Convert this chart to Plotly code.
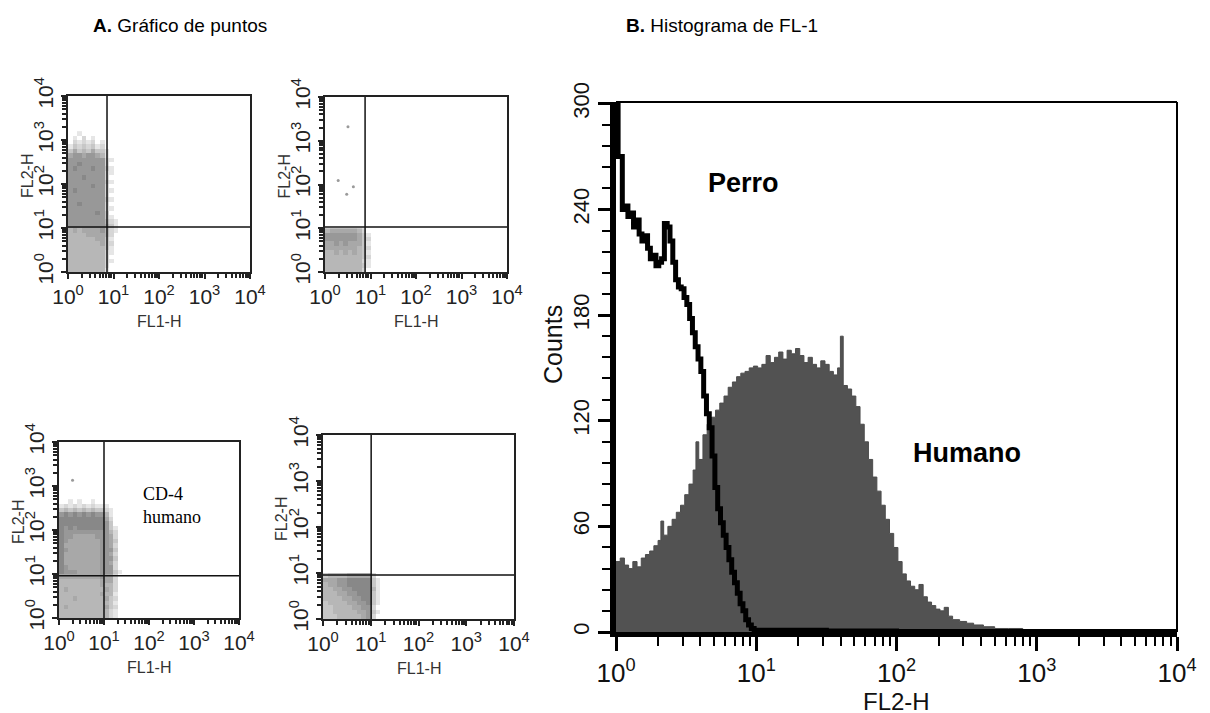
import numpy as np
import plotly.graph_objects as go

FONT = "Liberation Sans, Arial, Helvetica, sans-serif"

# ---------------- shared decade ticks ----------------
decade_exps = [0, 1, 2, 3, 4]
decade_labels = ["10<sup>0</sup>", "10<sup>1</sup>", "10<sup>2</sup>", "10<sup>3</sup>", "10<sup>4</sup>"]

# ---------------- A. dot plots ----------------
# Grey-level density grids: 0.1-decade cells.
# Each string is one FL2-H row (top row first); each character one FL1-H column from 10^0 upward.
# 0 = no events, 1 = faint ... 9 = dark.
dot_top_left = [
    "00100000000000",
    "01020100000000",
    "02121201000000",
    "13232312000000",
    "35343533100000",
    "56656654100000",
    "66666666210000",
    "66766666200000",
    "67666766310000",
    "66666666210000",
    "66676666200000",
    "66666666310000",
    "66666766200000",
    "67666666210000",
    "66666666200000",
    "66666666310000",
    "66766666200000",
    "66666666210000",
    "66666676300000",
    "66666666310000",
    "66666666421000",
    "66666666531000",
    "45455556421000",
    "44445555420000",
    "44444455310000",
    "44444445320000",
    "44444444310000",
    "44444444210000",
    "44444444200000",
    "44444444210000",
    "44444444200000",
    "44444444100000",
]
dot_top_right = [
    "45555554200000",
    "66666665310000",
    "66666665320000",
    "55656555310000",
    "55555554320000",
    "44545454310000",
    "44444444320000",
    "44444444210000",
    "44444444310000",
    "44444444200000",
]
dot_bottom_left = [
    "00101001000000",
    "12121212111000",
    "34343434332100",
    "67676767664100",
    "77777777775200",
    "77777777776300",
    "76767777776310",
    "76666666666420",
    "76655555666520",
    "76555555566530",
    "75555555566520",
    "76555555566630",
    "75555555566520",
    "75555555566630",
    "75555555566520",
    "76555555566620",
    "76665555566631",
    "55555555565520",
    "44444444455520",
    "44444444454420",
    "45444444445420",
    "44444444454410",
    "44454444445320",
    "44444444444310",
    "45444444445320",
    "44444444444210",
    "44444444444210",
]
dot_bottom_right = [
    "34444555552000",
    "55566777773100",
    "45566777773100",
    "44556677774100",
    "44455667773100",
    "44445566773100",
    "34444556673100",
    "33444455662000",
    "33444445563100",
    "33344444562000",
]
dot_grids = [dot_top_left, dot_top_right, dot_bottom_left, dot_bottom_right]

# quadrant gates (FL1-H, FL2-H channel values)
gate_fl1 = [7.2, 7.6, 10.0, 10.2]
gate_fl2 = [10.5, 10.7, 9.1, 9.1]

# isolated events
stray_fl1 = [[], [1.95, 3.2, 3.0, 4.2], [2.0], []]
stray_fl2 = [[], [123, 2090, 60, 89], [1350], []]

# ---------------- B. FL histogram ----------------
humano_exp = [0.00, 0.03, 0.06, 0.09, 0.12, 0.15, 0.18, 0.21, 0.24, 0.27, 0.30, 0.32, 0.34, 0.37,
              0.40, 0.43, 0.46, 0.49, 0.52, 0.55, 0.57, 0.59, 0.62, 0.65, 0.68, 0.71, 0.74, 0.77,
              0.80, 0.83, 0.86, 0.89, 0.92, 0.95, 0.98, 1.01, 1.04, 1.07, 1.10, 1.13, 1.16, 1.19,
              1.22, 1.25, 1.28, 1.31, 1.34, 1.37, 1.40, 1.43, 1.46, 1.49, 1.52, 1.55, 1.58, 1.60,
              1.62, 1.65, 1.68, 1.71, 1.74, 1.77, 1.80, 1.83, 1.86, 1.89, 1.92, 1.95, 1.98, 2.01,
              2.04, 2.07, 2.10, 2.13, 2.16, 2.19, 2.22, 2.25, 2.28, 2.31, 2.34, 2.37, 2.40, 2.45,
              2.50, 2.55, 2.62, 2.70, 2.80, 2.90, 3.00, 3.20, 3.50, 4.00]
humano_counts = [40, 42, 38, 36, 40, 37, 42, 44, 46, 49, 52, 63, 55, 60,
                 64, 68, 72, 78, 84, 92, 108, 98, 112, 118, 122, 126, 130, 134,
                 139, 142, 145, 147, 148, 150, 151, 150, 152, 157, 153, 156, 159, 155,
                 160, 158, 161, 157, 153, 156, 152, 150, 154, 152, 148, 146, 150, 168,
                 140, 138, 134, 128, 118, 108, 98, 88, 80, 72, 64, 56, 48, 40,
                 33, 29, 26, 24, 27, 20, 17, 15, 13, 12, 14, 9, 7, 6,
                 5, 4, 3, 2, 2, 1, 1, 0.5, 0, 0]

perro_exp = [0.000, 0.015, 0.045, 0.065, 0.085, 0.105, 0.125, 0.145, 0.165, 0.185, 0.205, 0.225,
             0.245, 0.265, 0.285, 0.305, 0.325, 0.345, 0.365, 0.385, 0.405, 0.425, 0.445, 0.465,
             0.485, 0.505, 0.525, 0.545, 0.565, 0.585, 0.605, 0.625, 0.645, 0.665, 0.685, 0.705,
             0.725, 0.745, 0.765, 0.785, 0.805, 0.825, 0.845, 0.865, 0.885, 0.905, 0.925, 0.945,
             0.965, 0.985, 1.5, 2.0, 3.0, 4.0]
perro_counts = [300, 270, 240, 242, 236, 238, 230, 234, 226, 222, 225, 218,
                212, 214, 208, 210, 212, 232, 230, 222, 210, 200, 196, 195,
                190, 186, 178, 170, 162, 155, 148, 134, 124, 116, 100, 82,
                70, 62, 55, 48, 41, 34, 28, 22, 16, 12, 7, 4,
                2, 1, 0.5, 0.3, 0.3, 0]

count_ticks = [0, 60, 120, 180, 240, 300]

# ---------------- layout geometry ----------------
W, H = 1210, 713
PAGE = 8  # the page body adds an 8 px margin around the figure


def px_x(v):
    return (v - PAGE) / W


def px_y(v):
    return 1 - (v - PAGE) / H


def xdom(left, right):
    return [px_x(left), px_x(right)]


def ydom(top, bottom):
    return [px_y(bottom), px_y(top)]


dot_boxes = [(68, 250, 96, 272), (325, 507, 97, 272), (59, 239, 442, 618), (323, 514, 435, 619)]
hist_box = (616, 1177, 102, 632)

minor_log = [np.log10(k) + p for p in range(4) for k in range(2, 10)]
minor_lin = [k * 10 ** p for p in range(4) for k in range(2, 10)]

fig = go.Figure()
layout = dict(
    width=W, height=H, margin=dict(l=0, r=0, t=0, b=0, pad=0, autoexpand=False),
    paper_bgcolor="white", plot_bgcolor="white", showlegend=False,
    font=dict(family=FONT, color="#111"),
)
shapes = []
annotations = []

for i, grid in enumerate(dot_grids):
    n = i + 1
    xa, ya = f"x{n}", f"y{n}"
    z = [[None if c == "0" else int(c) for c in row.ljust(14, "0")] for row in reversed(grid)]
    fig.add_trace(go.Heatmap(
        z=z, x0=0.05, dx=0.1, y0=0.05, dy=0.1, zmin=1, zmax=9,
        colorscale=[[0, "rgb(230,230,230)"], [1, "rgb(105,105,105)"]],
        showscale=False, hoverinfo="skip", xaxis=xa, yaxis=ya,
    ))
    if stray_fl1[i]:
        fig.add_trace(go.Scatter(
            x=np.log10(stray_fl1[i]), y=np.log10(stray_fl2[i]), mode="markers",
            marker=dict(size=3, color="#9a9a9a"), hoverinfo="skip", xaxis=xa, yaxis=ya,
        ))
    l, r, t, b = dot_boxes[i]
    common = dict(
        range=[0, 4], tickmode="array", tickvals=decade_exps, ticktext=decade_labels,
        ticks="outside", ticklen=5, tickwidth=2, tickcolor="#222",
        minor=dict(tickmode="array", tickvals=minor_log, ticks="outside", ticklen=4,
                   tickwidth=1.5, tickcolor="#222"),
        showline=True, linewidth=1.5, linecolor="#222", mirror=True,
        showgrid=False, zeroline=False, fixedrange=True, automargin=False,
        tickfont=dict(size=21, color="#222", family=FONT),
    )
    layout[f"xaxis{n}"] = dict(common, domain=xdom(l, r), anchor=ya)
    layout[f"yaxis{n}"] = dict(common, domain=ydom(t, b), anchor=xa, tickangle=-90)
    gx, gy = np.log10(gate_fl1[i]), np.log10(gate_fl2[i])
    shapes.append(dict(type="line", xref=xa, yref=ya, x0=gx, x1=gx, y0=0, y1=4,
                       line=dict(color="#111", width=1.5)))
    shapes.append(dict(type="line", xref=xa, yref=ya, x0=0, x1=4, y0=gy, y1=gy,
                       line=dict(color="#111", width=1.5)))
    # axis titles
    annotations.append(dict(text="FL1-H", x=px_x((l + r) / 2), y=px_y(b + 49),
                            font=dict(size=16, color="#333", family=FONT)))
    annotations.append(dict(text="FL2-H", x=px_x(l - 41), y=px_y((t + b) / 2 - 8),
                            textangle=-90, font=dict(size=16, color="#333", family=FONT)))

# histogram
fig.add_trace(go.Scatter(
    x=10 ** np.array(humano_exp), y=humano_counts, mode="lines",
    line=dict(shape="hv", color="#4c4c4c", width=1), fill="tozeroy", fillcolor="#525252",
    hoverinfo="skip", xaxis="x5", yaxis="y5",
))
fig.add_trace(go.Scatter(
    x=10 ** np.array(perro_exp), y=perro_counts, mode="lines",
    line=dict(shape="hv", color="black", width=5),
    hoverinfo="skip", xaxis="x5", yaxis="y5",
))
hl, hr, ht, hb = hist_box
layout["xaxis5"] = dict(
    type="log", range=[0, 4], domain=xdom(hl, hr), anchor="y5",
    tickmode="array", tickvals=[10 ** e for e in decade_exps], ticktext=decade_labels,
    ticks="outside", ticklen=14, tickwidth=2.5, tickcolor="black",
    minor=dict(tickmode="array", tickvals=minor_lin, ticks="outside", ticklen=9,
               tickwidth=2, tickcolor="black"),
    showline=True, linewidth=5, linecolor="black", showgrid=False, zeroline=False,
    tickfont=dict(size=26, color="#111", family=FONT), fixedrange=True, automargin=False,
)
layout["yaxis5"] = dict(
    range=[0, 301], domain=ydom(ht, hb), anchor="x5",
    tickmode="array", tickvals=count_ticks, tickangle=-90,
    ticks="outside", ticklen=12, tickwidth=2.5, tickcolor="black",
    minor=dict(dtick=12, ticks="outside", ticklen=8, tickwidth=2, tickcolor="black"),
    showline=True, linewidth=6, linecolor="black", showgrid=False, zeroline=False,
    tickfont=dict(size=22, color="#111", family=FONT), fixedrange=True, automargin=False,
)
shapes.append(dict(type="line", xref="x5 domain", yref="y5 domain", x0=0, x1=1, y0=1, y1=1,
                   line=dict(color="black", width=2)))
shapes.append(dict(type="line", xref="x5 domain", yref="y5 domain", x0=1, x1=1, y0=0, y1=1,
                   line=dict(color="black", width=2)))

annotations += [
    dict(text="Counts", x=px_x(553), y=px_y(345), textangle=-90,
         font=dict(size=25, color="#111", family=FONT)),
    dict(text="FL2-H", x=px_x(896), y=px_y(701),
         font=dict(size=24, color="#111", family=FONT)),
    dict(text="<b>Perro</b>", x=px_x(743), y=px_y(183),
         font=dict(size=27, color="black", family=FONT)),
    dict(text="<b>Humano</b>", x=px_x(967), y=px_y(453),
         font=dict(size=27, color="black", family=FONT)),
    dict(text="CD-4<br>humano", x=px_x(141), y=px_y(505), xanchor="left", align="left",
         font=dict(size=18, color="black", family="Liberation Serif, Times New Roman, serif")),
    dict(text="<b>A.</b> Gráfico de puntos", x=px_x(91), y=px_y(25), xanchor="left",
         font=dict(size=19, color="black", family=FONT)),
    dict(text="<b>B.</b> Histograma de FL-1", x=px_x(624), y=px_y(25), xanchor="left",
         font=dict(size=19, color="black", family=FONT)),
]
for a in annotations:
    a.setdefault("xref", "paper")
    a.setdefault("yref", "paper")
    a.setdefault("showarrow", False)
    a.setdefault("xanchor", "center")
    a.setdefault("yanchor", "middle")

layout["shapes"] = shapes
layout["annotations"] = annotations
fig.update_layout(**layout)

fig.write_html("out.html")
